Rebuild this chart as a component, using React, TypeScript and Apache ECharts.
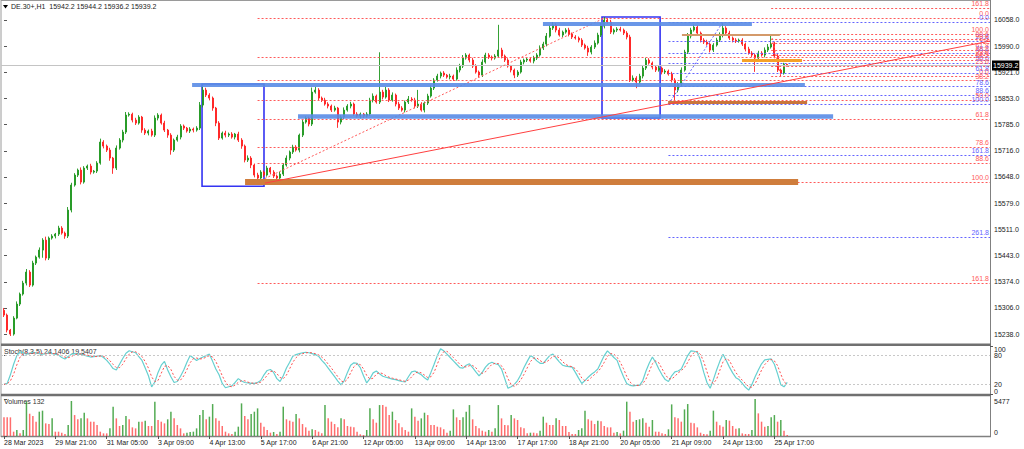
import React, { useEffect, useRef } from "react";
import * as echarts from "echarts";

// ---------- texts ----------
const symbolTitle = "DE.30+,H1  15942.2 15944.2 15936.2 15939.2";
const stochTitle = "Stoch(8,3,5) 24.1406 19.5407";
const volumeTitle = "Volumes 132";
const lastPrice = 15939.2;

// ---------- price data (H1 bars) ----------
const firstOpen = 15300.0;
const closes = [
  15287.4, 15248.2, 15237.8, 15279.5, 15316.1, 15342.2, 15370.9, 15399.7, 15365.7, 15423.2,
  15438.8, 15457.1, 15483.2, 15436.2, 15488.5, 15493.7, 15498.9, 15514.6, 15501.5, 15493.7,
  15561.6, 15626.9, 15653.0, 15666.0, 15634.7, 15671.3, 15676.5, 15660.8, 15663.4, 15684.3,
  15739.2, 15728.7, 15718.3, 15697.4, 15671.3, 15723.5, 15744.4, 15765.3, 15809.7, 15812.0,
  15796.6, 15788.8, 15804.5, 15770.5, 15762.7, 15767.9, 15757.4, 15801.8, 15809.7, 15788.8,
  15770.5, 15757.4, 15718.3, 15744.4, 15752.2, 15781.0, 15775.7, 15767.9, 15773.1, 15770.5,
  15775.7, 15835.8, 15875.0, 15861.9, 15854.1, 15828.0, 15788.8, 15749.6, 15762.7, 15757.4,
  15760.1, 15752.2, 15760.1, 15744.4, 15728.7, 15692.2, 15697.4, 15679.1, 15653.0, 15645.2,
  15660.8, 15653.0, 15671.3, 15660.8, 15650.4, 15645.2, 15655.6, 15679.1, 15697.4, 15713.1,
  15726.1, 15718.3, 15757.4, 15791.4, 15801.8, 15786.2, 15869.7, 15875.0, 15854.1, 15848.8,
  15838.4, 15833.2, 15822.7, 15828.0, 15791.4, 15804.5, 15822.7, 15833.2, 15838.4, 15812.3,
  15807.1, 15812.3, 15807.1, 15812.3, 15848.8, 15859.3, 15843.6, 15869.7, 15856.7, 15875.0,
  15848.8, 15861.9, 15838.4, 15828.0, 15822.7, 15843.6, 15851.5, 15848.8, 15833.2, 15838.4,
  15822.7, 15841.0, 15859.3, 15880.2, 15901.1, 15911.5, 15919.4, 15914.1, 15908.9, 15911.5,
  15903.7, 15927.2, 15937.6, 15958.5, 15966.4, 15953.3, 15937.6, 15922.0, 15914.1, 15948.1,
  15966.4, 15961.1, 15958.5, 15963.8, 15979.4, 15963.8, 15953.3, 15937.6, 15927.2, 15914.1,
  15922.0, 15948.1, 15953.3, 15955.9, 15950.7, 15958.5, 15966.4, 15984.6, 15995.1, 16016.0,
  16036.9, 16044.7, 16031.7, 16018.6, 16026.4, 16031.7, 16021.2, 16013.4, 16010.8, 16005.5,
  15992.5, 15984.6, 15974.2, 15987.3, 15997.7, 16018.6, 16042.1, 16057.8, 16052.5, 16026.4,
  16031.7, 16034.3, 16031.7, 16023.8, 16013.4, 15901.1, 15906.3, 15895.9, 15911.5, 15932.4,
  15953.3, 15945.5, 15935.0, 15927.2, 15932.4, 15922.0, 15924.5, 15916.7, 15901.1, 15875.0,
  15890.6, 15927.2, 15974.2, 16016.0, 16031.7, 16039.5, 16023.8, 16005.5, 16000.3, 15995.1,
  15979.4, 15992.5, 16005.5, 16018.6, 16036.9, 16023.8, 16010.8, 16005.5, 16002.9, 16005.5,
  15995.1, 15982.0, 15971.6, 15966.4, 15958.5, 15971.6, 15966.4, 15979.4, 15987.3, 15995.1,
  15964.0, 15927.2, 15919.4, 15942.2, 15939.2,
];
// wick lengths (points above the body top / below the body bottom)
const upperWicks = [
  6, 4, 3, 5, 7, 4, 6, 8, 5, 6,
  4, 7, 5, 9, 4, 5, 3, 6, 5, 4,
  8, 6, 5, 4, 7, 5, 4, 6, 3, 5,
  9, 5, 4, 6, 3, 7, 5, 6, 8, 5,
  4, 6, 5, 3, 5, 4, 6, 7, 5, 4,
  6, 3, 5, 4, 6, 5, 4, 3, 5, 4,
  5, 8, 10, 6, 5, 4, 3, 5, 4, 6,
  4, 5, 3, 6, 5, 4, 7, 5, 4, 6,
  5, 4, 6, 3, 5, 4, 6, 5, 7, 4,
  6, 5, 4, 7, 5, 4, 12, 8, 5, 4,
  6, 5, 4, 6, 3, 5, 7, 5, 6, 4,
  5, 4, 3, 5, 6, 7, 4, 104, 6, 8,
  5, 7, 4, 6, 5, 4, 8, 5, 6, 37,
  5, 4, 6, 7, 5, 6, 4, 5, 3, 6,
  4, 7, 6, 8, 5, 4, 6, 5, 4, 7,
  6, 5, 4, 5, 66, 6, 4, 5, 3, 4,
  5, 6, 4, 5, 4, 6, 5, 7, 6, 8,
  7, 8, 5, 6, 4, 5, 6, 4, 5, 4,
  5, 4, 6, 5, 7, 6, 8, 8, 5, 6,
  4, 5, 6, 4, 5, 6, 7, 5, 6, 8,
  6, 5, 4, 5, 6, 4, 5, 4, 6, 5,
  5, 7, 6, 8, 6, 7, 5, 4, 5, 6,
  4, 5, 6, 7, 13, 5, 6, 4, 5, 4,
  5, 4, 6, 5, 4, 6, 5, 7, 8, 23,
  6, 5, 4, 4, 2,
];
const lowerWicks = [
  5, 6, 5, 4, 3, 5, 4, 6, 5, 4,
  5, 4, 20, 6, 5, 4, 6, 5, 4, 7,
  5, 6, 4, 5, 6, 4, 5, 6, 4, 5,
  4, 6, 5, 7, 15, 5, 4, 6, 5, 4,
  6, 5, 4, 7, 5, 6, 4, 5, 6, 4,
  5, 7, 12, 5, 4, 6, 5, 4, 5, 6,
  4, 5, 6, 5, 6, 7, 8, 5, 4, 6,
  5, 4, 6, 5, 7, 6, 5, 8, 6, 18,
  6, 5, 4, 6, 5, 8, 12, 5, 4, 6,
  5, 4, 6, 5, 4, 6, 5, 4, 6, 5,
  4, 6, 5, 4, 15, 6, 5, 4, 6, 5,
  4, 6, 5, 4, 5, 6, 4, 5, 6, 4,
  5, 4, 6, 5, 4, 6, 5, 4, 6, 5,
  4, 6, 5, 4, 5, 4, 6, 5, 4, 6,
  5, 4, 6, 5, 4, 6, 5, 4, 6, 5,
  4, 5, 6, 4, 5, 6, 5, 4, 6, 8,
  5, 4, 6, 5, 4, 6, 5, 4, 5, 6,
  4, 5, 6, 4, 5, 4, 6, 5, 4, 6,
  5, 4, 10, 6, 5, 4, 5, 6, 4, 5,
  6, 5, 4, 5, 6, 5, 4, 16, 5, 6,
  5, 4, 6, 5, 4, 6, 5, 4, 6, 28,
  6, 5, 4, 5, 6, 4, 5, 6, 5, 4,
  6, 5, 4, 5, 6, 4, 5, 6, 5, 4,
  5, 6, 4, 5, 36, 5, 4, 6, 5, 4,
  6, 5, 8, 4, 3,
];

// ---------- volumes ----------
const volumes = [
  2760, 2760, 2760, 640, 890, 390, 890, 5080, 3300, 2960,
  2120, 3600, 3750, 1870, 1770, 2610, 640, 640, 490, 300,
  1630, 5180, 3100, 2470, 2610, 3450, 2610, 2120, 2120, 1630,
  640, 390, 390, 1130, 4340, 2610, 1480, 1630, 2960, 2470,
  1280, 1130, 2120, 2120, 2270, 1480, 1480, 5080, 2370, 2120,
  1870, 2470, 3600, 2610, 1630, 1130, 390, 490, 590, 640,
  1130, 3100, 3850, 2470, 2860, 4730, 2610, 2270, 1480, 640,
  390, 300, 640, 1380, 4830, 2960, 2470, 3250, 3600, 4090,
  1970, 1380, 890, 490, 590, 300, 640, 4340, 2470, 2270,
  2120, 3250, 2610, 1770, 1280, 790, 990, 890, 640, 390,
  4580, 2610, 2120, 1770, 1280, 2610, 2470, 1480, 1380, 1280,
  640, 250, 150, 890, 4090, 2470, 1970, 4580, 4580, 4340,
  3100, 3600, 2370, 1870, 1280, 890, 640, 4090, 2860, 2270,
  2610, 3450, 3100, 1630, 1630, 1380, 1280, 990, 490, 790,
  3940, 2760, 2370, 2760, 3600, 4580, 2470, 1480, 1130, 790,
  640, 890, 640, 1130, 4580, 2610, 1630, 1580, 3100, 2610,
  2370, 1280, 1130, 390, 490, 490, 390, 790, 2860, 1970,
  1630, 1630, 2610, 2370, 1480, 1480, 590, 300, 300, 890,
  1130, 3750, 2470, 2270, 1770, 2270, 2170, 1480, 1280, 1280,
  490, 590, 390, 790, 5080, 3600, 2120, 2370, 2470, 2610,
  1970, 1380, 2370, 640, 640, 390, 300, 990, 4680, 2760,
  2610, 2120, 3940, 4730, 1970, 1870, 1280, 490, 300, 250,
  790, 3750, 2120, 1580, 1380, 2370, 2270, 1480, 1080, 1130,
  390, 300, 300, 890, 5477, 3350, 2120, 1380, 1480, 2760,
  3100, 2120, 2370, 790, 132,
];
const volumeMax = 5477;

// ---------- stochastic %K ----------
const stochK = [
  20, 22, 40, 62, 80, 88, 86, 83, 85, 87,
  86, 84, 83, 84, 85, 84, 83, 81, 76, 73,
  78, 83, 84, 83, 83, 81, 79, 77, 78, 79,
  80, 76, 70, 62, 53, 50, 62, 74, 85, 90,
  88, 86, 78, 70, 54, 38, 15, 25, 45, 60,
  68, 50, 36, 24, 26, 37, 50, 66, 80, 75,
  70, 74, 77, 80, 83, 68, 52, 40, 22, 13,
  15, 17, 24, 32, 27, 24, 23, 22, 22, 24,
  28, 40, 49, 51, 45, 32, 26, 38, 54, 66,
  79, 82, 84, 86, 87, 86, 84, 82, 79, 70,
  63, 54, 45, 36, 27, 19, 28, 45, 60, 65,
  64, 55, 38, 23, 32, 44, 48, 42, 37, 35,
  33, 31, 30, 28, 26, 25, 36, 46, 48, 44,
  40, 34, 29, 45, 62, 80, 94, 90, 83, 76,
  69, 62, 55, 54, 60, 63, 55, 46, 38, 45,
  56, 63, 66, 63, 61, 52, 32, 12, 15, 20,
  28, 40, 55, 68, 80, 76, 69, 64, 64, 72,
  80, 83, 75, 67, 60, 58, 57, 56, 45, 33,
  22, 28, 35, 41, 46, 52, 66, 80, 90, 83,
  76, 70, 52, 36, 22, 18, 17, 18, 18, 28,
  48, 64, 77, 66, 52, 40, 30, 26, 38, 46,
  48, 52, 66, 80, 90, 89, 87, 70, 45, 24,
  12, 30, 50, 68, 83, 70, 56, 44, 34, 30,
  22, 14, 8, 20, 36, 50, 63, 71, 72, 73,
  62, 42, 19.5, 15, 24.14,
];
const stochLevels = [20, 80];
const stochBounds = [0, 100];

// ---------- axis ticks ----------
const priceTicks = [15238.0, 15306.0, 15374.0, 15443.0, 15511.0, 15579.0, 15648.0, 15716.0, 15785.0, 15853.0, 15921.0, 15990.0, 16058.0];
const timeTickBars = [0, 16, 32, 48, 64, 80, 96, 112, 128, 144, 160, 176, 192, 208, 224, 240];
const timeTickLabels = [
  "28 Mar 2023", "29 Mar 21:00", "31 Mar 05:00", "3 Apr 09:00", "4 Apr 13:00", "5 Apr 17:00",
  "6 Apr 21:00", "12 Apr 05:00", "13 Apr 09:00", "14 Apr 13:00", "17 Apr 17:00", "18 Apr 21:00",
  "20 Apr 05:00", "21 Apr 09:00", "24 Apr 13:00", "25 Apr 17:00",
];

// ---------- drawn objects (bar index / price) ----------
const fibRedLevels = [0, 23.6, 38.2, 50, 61.8, 78.6, 88.6, 100, 161.8];
const fibBlueLevels = [0, 23.6, 38.2, 50, 61.8, 78.6, 88.6, 100, 161.8, 261.8];
const fibMajor = { fromBar: 79, toBar: 187, p100: 15635, p0: 16063 };
const fibSwing = { fromBar: 207, toBar: 224, p100: 15838, p0: 16053 };
const fibLast = { fromBar: 239, toBar: 242, p100: 16021, p0: 15912 };

const blueZones = [
  { from: 58.6, to: 249.5, price: 15888 },
  { from: 91.6, to: 258.3, price: 15807 },
  { from: 167.9, to: 233.0, price: 16049 },
];
const brownZones = [
  { from: 75.1, to: 247.4, price: 15635 },
  { from: 206.9, to: 250.2, price: 15844 },
  { from: 211.2, to: 241.7, price: 16019 },
  { from: 229.9, to: 248.6, price: 15953 },
];
const boxes = [
  { from: 61.7, to: 81.0, top: 15891, bottom: 15624 },
  { from: 186.3, to: 204.4, top: 16066, bottom: 15802 },
];
const trendLine = { fromBar: 81.3, fromPrice: 15632, toBar: 307.17, toPrice: 16003 };

// ---------- styles / layout ----------
const FONT = "'Liberation Sans', Arial, sans-serif";
const X_MIN = -0.93;
const X_MAX = 307.17;
const blueZoneWidths = [4, 4.5, 4];
const brownZoneStyles = [
  { color: "#cf7d3c", width: 6 },
  { color: "#c9763c", width: 3 },
  { color: "#d49a6a", width: 2 },
  { color: "#f5a128", width: 3 },
];
const RED = "#ff5a5a";
const BLUE = "#6464ff";

function buildOption() {
  const candleData = closes.map((c, i) => {
    const o = i === 0 ? firstOpen : closes[i - 1];
    const hi = Math.max(o, c) + upperWicks[i];
    const lo = Math.min(o, c) - lowerWicks[i];
    return [i, o, c, lo, hi];
  });

  const stochD = stochK.map((_, i) => {
    const s = stochK.slice(Math.max(0, i - 2), i + 1);
    return s.reduce((a, b) => a + b, 0) / s.length;
  });

  const volData = volumes.map((v, i) => ({
    value: [i, v],
    itemStyle: { color: i > 0 && v > volumes[i - 1] ? "rgba(40,150,40,0.8)" : "rgba(255,60,60,0.75)" },
  }));

  const ml: any[] = [];
  // bid line with price box
  ml.push({
    yAxis: lastPrice,
    lineStyle: { color: "#c4c4c4", type: "solid", width: 1 },
    label: {
      show: true, position: "end", distance: 2, formatter: lastPrice.toFixed(1),
      color: "#fff", backgroundColor: "#000", padding: [2, 1, 1, 1], fontSize: 7, fontFamily: FONT,
    },
  });

  const addFib = (f: any, levels: number[], color: string) => {
    levels.forEach((L) => {
      const p = f.p0 + ((f.p100 - f.p0) * L) / 100;
      ml.push([
        {
          coord: [f.fromBar, p],
          lineStyle: { color, type: [2, 2], width: 1 },
          label: { show: true, position: "insideEndTop", distance: 1, formatter: L.toFixed(1), color, fontSize: 7, fontFamily: FONT },
        },
        { coord: [X_MAX, p] },
      ]);
    });
    ml.push([
      { coord: [f.fromBar, f.p100], lineStyle: { color, type: [2, 2], width: 1 }, label: { show: false } },
      { coord: [f.toBar, f.p0] },
    ]);
  };
  addFib(fibMajor, fibRedLevels, RED);
  addFib(fibSwing, fibBlueLevels, BLUE);
  addFib(fibLast, fibRedLevels, RED);

  blueZones.forEach((z, i) => {
    ml.push([
      { coord: [z.from, z.price], lineStyle: { color: "rgba(90,140,230,0.9)", type: "solid", width: blueZoneWidths[i] }, label: { show: false } },
      { coord: [z.to, z.price] },
    ]);
  });
  brownZones.forEach((z, i) => {
    ml.push([
      { coord: [z.from, z.price], lineStyle: { color: brownZoneStyles[i].color, type: "solid", width: brownZoneStyles[i].width }, label: { show: false } },
      { coord: [z.to, z.price] },
    ]);
  });
  ml.push([
    { coord: [trendLine.fromBar, trendLine.fromPrice], lineStyle: { color: "#ff4040", type: "solid", width: 1 }, label: { show: false } },
    { coord: [trendLine.toBar, trendLine.toPrice] },
  ]);

  const areas = boxes.map((b) => [{ coord: [b.from, b.top] }, { coord: [b.to, b.bottom] }]);

  const labelBase = { fontSize: 7, color: "#222", fontFamily: FONT, hideOverlap: false };
  const rich = {
    t: { padding: [7, 0, 0, 0], fontSize: 7, fontFamily: FONT, color: "#222" },
    b: { padding: [0, 0, 6, 0], fontSize: 7, fontFamily: FONT, color: "#222" },
  };

  return {
    animation: false,
    backgroundColor: "#ffffff",
    textStyle: { fontFamily: FONT },
    grid: [
      { left: 1, top: 1, width: 989, height: 343 },
      { left: 1, top: 346, width: 989, height: 48 },
      { left: 1, top: 399, width: 989, height: 37 },
    ],
    xAxis: [
      { type: "value", gridIndex: 0, min: X_MIN, max: X_MAX, show: false },
      { type: "value", gridIndex: 1, min: X_MIN, max: X_MAX, show: false },
      {
        type: "value", gridIndex: 2, min: X_MIN, max: X_MAX,
        axisLine: { show: false },
        splitLine: { show: false },
        axisTick: { show: true, customValues: timeTickBars, length: 3, lineStyle: { color: "#555" } },
        axisLabel: {
          ...labelBase, customValues: timeTickBars, align: "left", margin: 3,
          showMinLabel: true, showMaxLabel: true,
          formatter: (v: number) => timeTickLabels[timeTickBars.indexOf(Math.round(v))] ?? "",
        },
      },
    ],
    yAxis: [
      {
        type: "value", gridIndex: 0, position: "right", min: 15211.9, max: 16107.6,
        axisLine: { show: false }, splitLine: { show: false },
        axisTick: { show: true, customValues: priceTicks, length: 3, lineStyle: { color: "#555" } },
        axisLabel: { ...labelBase, customValues: priceTicks, margin: 4, formatter: (v: number) => v.toFixed(1) },
      },
      {
        type: "value", gridIndex: 1, position: "right", min: 0, max: 100,
        axisLine: { show: false }, splitLine: { show: false },
        axisTick: { show: true, customValues: stochLevels, length: 3, lineStyle: { color: "#555" } },
        axisLabel: { ...labelBase, customValues: stochLevels, margin: 4, formatter: (v: number) => String(v) },
      },
      {
        type: "value", gridIndex: 2, position: "right", min: 0, max: volumeMax,
        axisLine: { show: false }, splitLine: { show: false },
        axisTick: { show: true, customValues: [0, volumeMax], length: 3, lineStyle: { color: "#555" } },
        axisLabel: {
          ...labelBase, customValues: [0, volumeMax], margin: 4,
          showMinLabel: true, showMaxLabel: true,
          formatter: (v: number) => (v === 0 ? "{b|0}" : "{t|" + String(volumeMax) + "}"),
          rich: {
            t: { padding: [4, 0, 0, 0], fontSize: 7, fontFamily: FONT, color: "#222" },
            b: { padding: [0, 0, 8, 0], fontSize: 7, fontFamily: FONT, color: "#222" },
          },
        },
      },
      {
        type: "value", gridIndex: 1, position: "right", min: 0, max: 100,
        axisLine: { show: false }, splitLine: { show: false },
        axisTick: { show: true, customValues: stochBounds, length: 3, lineStyle: { color: "#555" } },
        axisLabel: {
          ...labelBase, customValues: stochBounds, margin: 4,
          showMinLabel: true, showMaxLabel: true,
          formatter: (v: number) => (v === 100 ? "{t|100}" : "{b|0}"),
          rich,
        },
      },
    ],
    series: [
      {
        type: "candlestick", xAxisIndex: 0, yAxisIndex: 0, data: candleData, barWidth: 1.5,
        itemStyle: { color: "#1e961e", color0: "#ff1e1e", borderColor: "#1e961e", borderColor0: "#ff1e1e", borderWidth: 0.9 },
        markLine: { symbol: ["none", "none"], silent: true, data: ml },
        markArea: {
          silent: true, data: areas,
          itemStyle: { color: "rgba(0,0,0,0)", borderColor: "#3434f2", borderWidth: 1.6 },
        },
      },
      {
        type: "line", xAxisIndex: 1, yAxisIndex: 1, data: stochK.map((k, i) => [i, k]),
        symbol: "none", lineStyle: { color: "#66d0d0", width: 1.2 },
        markLine: {
          symbol: ["none", "none"], silent: true, label: { show: false },
          lineStyle: { color: "#c8c8c8", type: [2, 2], width: 1 },
          data: stochLevels.map((l) => ({ yAxis: l })),
        },
      },
      {
        type: "line", xAxisIndex: 1, yAxisIndex: 1, data: stochD.map((d, i) => [i, d]),
        symbol: "none", lineStyle: { color: "#ff5050", width: 1, type: [2, 2] },
      },
      {
        type: "bar", xAxisIndex: 2, yAxisIndex: 2, data: volData, barWidth: 1.5,
      },
    ],
    graphic: [
      { type: "line", silent: true, shape: { x1: 1, y1: 0, x2: 1, y2: 437 }, style: { stroke: "#9a9a9a", lineWidth: 1 } },
      { type: "line", silent: true, shape: { x1: 990.5, y1: 0, x2: 990.5, y2: 437 }, style: { stroke: "#808080", lineWidth: 1 } },
      { type: "line", silent: true, shape: { x1: 1, y1: 0.5, x2: 990, y2: 0.5 }, style: { stroke: "#9a9a9a", lineWidth: 1 } },
      { type: "rect", silent: true, shape: { x: 1, y: 343.5, width: 990, height: 2.5 }, style: { fill: "#707070" } },
      { type: "rect", silent: true, shape: { x: 1, y: 393.8, width: 990, height: 2.4 }, style: { fill: "#707070" } },
      { type: "line", silent: true, shape: { x1: 1, y1: 436.5, x2: 991, y2: 436.5 }, style: { stroke: "#808080", lineWidth: 1.5 } },
      { type: "polygon", silent: true, shape: { points: [[3, 5], [8, 5], [5.5, 8.5]] }, style: { fill: "#000" } },
      { type: "text", silent: true, x: 11, y: 3, style: { text: symbolTitle, fontSize: 7, fill: "#222", fontFamily: FONT } },
      { type: "text", silent: true, x: 4, y: 348, style: { text: stochTitle, fontSize: 7, fill: "#333", fontFamily: FONT } },
      { type: "text", silent: true, x: 4, y: 398, style: { text: volumeTitle, fontSize: 7, fill: "#333", fontFamily: FONT } },
    ],
  };
}

export default function App() {
  const ref = useRef<HTMLDivElement>(null);
  useEffect(() => {
    if (!ref.current) return;
    const chart = echarts.init(ref.current, undefined, { renderer: "svg" });
    chart.setOption(buildOption() as any);
    return () => chart.dispose();
  }, []);
  return (
    <div
      ref={ref}
      style={{ position: "fixed", left: 0, top: 0, width: 1024, height: 449, background: "#fff" }}
    />
  );
}
